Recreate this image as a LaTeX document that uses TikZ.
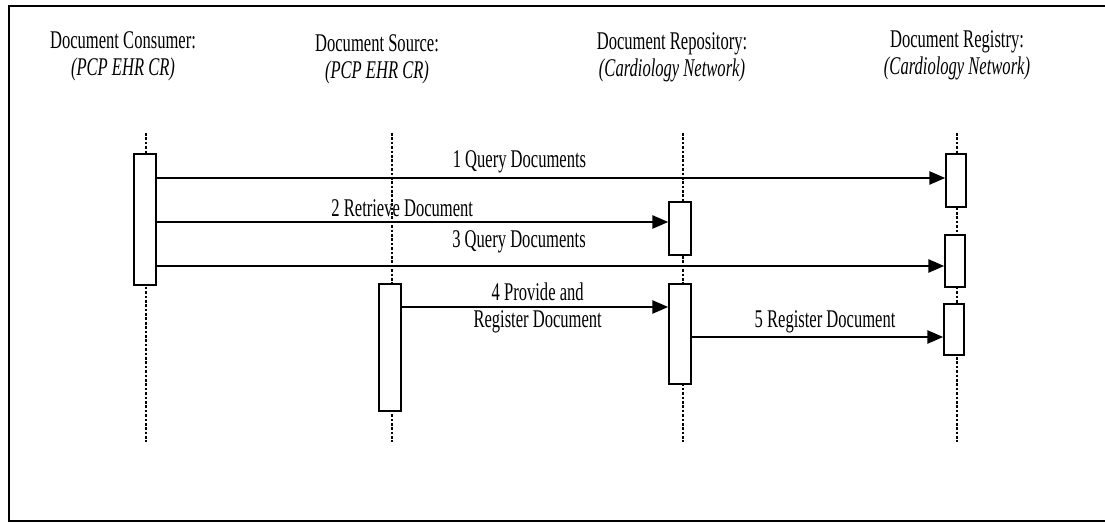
\documentclass[tikz,border=0pt]{standalone}
\usepackage{fontspec}
\setmainfont{Liberation Serif}[FakeStretch=0.65]
\usetikzlibrary{arrows.meta,positioning}

\begin{document}
\begin{tikzpicture}[x=0.02cm,y=-0.02cm,font=\fontsize{14.5}{15.3}\selectfont]
    \tikzstyle{head}=[align=center, inner sep=0pt]
    \tikzstyle{act}=[draw, fill=white, line width=0.8pt, minimum width=0.44cm, inner sep=0pt]
    \tikzstyle{life}=[densely dotted, line width=1.5pt]
    \tikzstyle{msg}=[line width=1.5pt, -{Triangle[length=0.32cm,width=0.26cm]}]
    \tikzstyle{lbl}=[inner sep=0pt]

    \useasboundingbox (0,0) rectangle (1105,523);
    \draw[line width=1.4pt] (1105,6) -- (9,6) -- (9,521) -- (1105,521);

    % objects
    \node[head] (cons) at (123,56) {Document Consumer:\\\textit{(PCP EHR CR)}};
    \node[head] (src)  at (377,59) {Document Source:\\\textit{(PCP EHR CR)}};
    \node[head] (repo) at (672,57) {Document Repository:\\\textit{(Cardiology Network)}};
    \node[head] (reg)  at (957,55) {Document Registry:\\\textit{(Cardiology Network)}};

    % lifelines
    \coordinate (consTop) at (146,133);
    \coordinate (consBot) at (146,442);
    \coordinate (srcTop)  at (392,133);
    \coordinate (srcBot)  at (392,442);
    \coordinate (repoTop) at (683,133);
    \coordinate (repoBot) at (683,442);
    \coordinate (regTop)  at (957,133);
    \coordinate (regBot)  at (957,442);
    \draw[life] (consTop) -- (consBot);
    \draw[life] (srcTop) -- (srcBot);
    \draw[life] (repoTop) -- (repoBot);
    \draw[life] (regTop) -- (regBot);

    % activations
    \node[act, minimum height=2.62cm] (c1) at (145,219.5) {};
    \node[act, minimum height=2.54cm] (s1) at (390,347.5) {};
    \node[act, minimum height=1.06cm] (p1) at (680,228.5) {};
    \node[act, minimum height=2.00cm] (p2) at (680,334) {};
    \node[act, minimum height=1.06cm, minimum width=0.4cm] (r1) at (956,180.5) {};
    \node[act, minimum height=1.04cm, minimum width=0.4cm] (r2) at (955,261) {};
    \node[act, minimum height=1.02cm, minimum width=0.4cm] (r3) at (954,329.5) {};

    % messages
    \draw[msg] (c1.east |- 0,178) -- (r1.west |- 0,178)
        node[lbl, pos=.46, yshift=0.32cm] (m1) {1 Query Documents};
    \draw[msg] (c1.east |- 0,222) -- (p1.west |- 0,222)
        node[lbl, pos=.48, yshift=0.28cm] (m2) {2 Retrieve Document};
    \draw[msg] (c1.east |- 0,266) -- (r2.west |- 0,266)
        node[lbl, pos=.46, yshift=0.48cm] (m3) {3 Query Documents};
    \draw[msg] (s1.east |- 0,307) -- (p2.west |- 0,307)
        node[lbl, pos=.51, anchor=south, yshift=0.1cm] (m4) {4 Provide and}
        node[lbl, pos=.51, anchor=north, yshift=-0.04cm] (m4b) {Register Document};
    \draw[msg] (p2.east |- 0,337) -- (r3.west |- 0,337)
        node[lbl, pos=.53, yshift=0.30cm] (m5) {5 Register Document};

\end{tikzpicture}
\end{document}
